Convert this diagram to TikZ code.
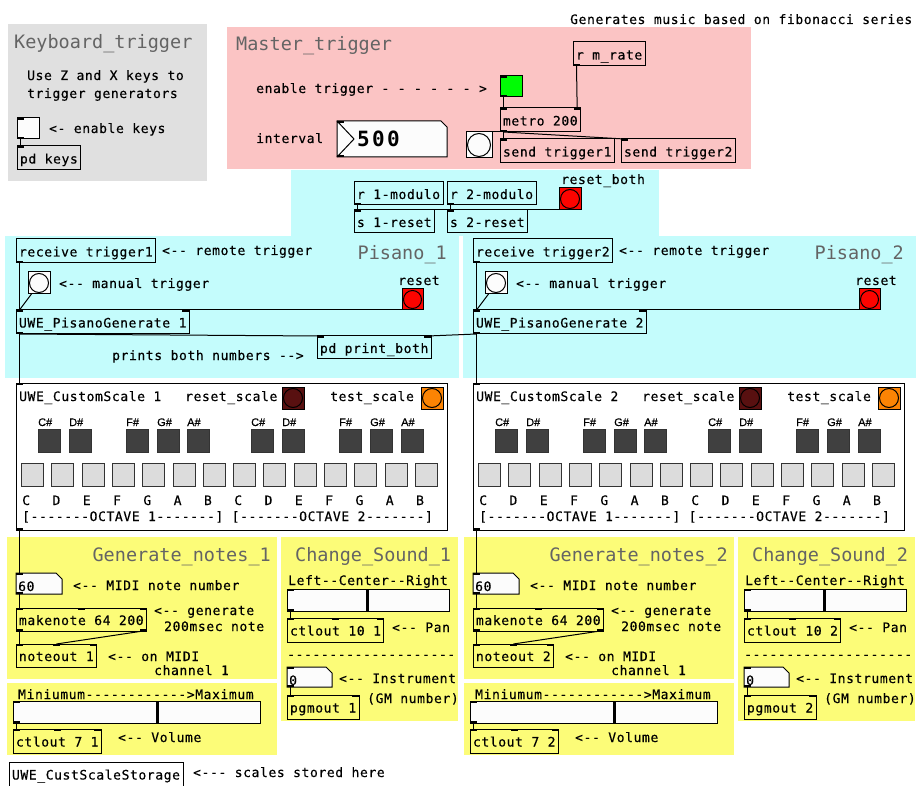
\documentclass[tikz,border=0pt]{standalone}
\usepackage{fontspec}
\usetikzlibrary{calc}

\newfontfamily\pdmono[LetterSpace=4.65,Ligatures=TeXOff,FakeBold=0.4]{DejaVu Sans Mono}
\newfontfamily\pdhead[Ligatures=TeXOff]{DejaVu Sans Mono}
\newfontfamily\pdbig[LetterSpace=11,Ligatures=TeXOff]{DejaVu Sans Mono Bold}
\newfontfamily\pdsans[FakeBold=0.3]{Liberation Sans}
\newcommand{\pdtext}{\pdmono\fontsize{13}{15}\selectfont}

\definecolor{keygray}{RGB}{224,224,224}
\definecolor{masterpink}{RGB}{251,196,196}
\definecolor{pisanocyan}{RGB}{196,252,252}
\definecolor{notesyellow}{RGB}{252,252,120}
\definecolor{headgray}{RGB}{100,100,100}
\definecolor{guiwhite}{RGB}{252,252,252}
\definecolor{bnggreen}{RGB}{0,252,4}
\definecolor{bngred}{RGB}{252,4,0}
\definecolor{bngorange}{RGB}{252,132,4}
\definecolor{bngmaroon}{RGB}{88,16,16}
\definecolor{sharpkey}{RGB}{64,64,64}
\definecolor{naturalkey}{RGB}{220,220,220}

\tikzset{
    obj/.style = {draw, line width=1pt, anchor=north west, inner xsep=3pt, inner ysep=0pt, outer sep=0pt,
                  minimum height=24pt, text height=14pt, text depth=3pt, font=\pdtext},
    gui/.style = {draw, line width=1pt, fill=guiwhite, anchor=north west, inner sep=0pt, outer sep=0pt},
    tgl/.style = {gui, minimum width=22pt, minimum height=21pt},
    bng/.style = {gui, minimum size=#1,
                  path picture={\draw[line width=1pt] (path picture bounding box.center) circle [radius={(#1/2-1.5)*1pt}];}},
    key/.style = {draw=black!80, line width=1pt, anchor=north west, inner sep=0pt, minimum width=22pt, minimum height=23pt},
    cmt/.style = {anchor=base west, inner sep=0pt, font=\pdtext},
    head/.style = {anchor=base west, inner sep=0pt, text=headgray, font=\pdhead\fontsize{18.5}{20}\selectfont},
    wire/.style = {line width=1pt}
}

% inlets and outlets, spread over the top and bottom edge of a box
\newcommand{\pdio}[3]{%
    \ifnum#2>0
        \foreach \k [evaluate=\k as \f using {(\k-1)/max(#2-1,1)}] in {1,...,#2}
            \fill ($(#1.north west)!\f!(#1.north east)+(-7*\f,0)$) rectangle ++(7,2);
    \fi
    \ifnum#3>0
        \foreach \k [evaluate=\k as \f using {(\k-1)/max(#3-1,1)}] in {1,...,#3}
            \fill ($(#1.south west)!\f!(#1.south east)+(-7*\f,0)$) rectangle ++(7,-2);
    \fi
}

% number box with the clipped corner
\newcommand{\numbox}[5]{%
    \draw[line width=1pt, fill=guiwhite] (#2,#3) -- ({#2+#4-6},#3) -- ({#2+#4},{#3+6}) -- ({#2+#4},{#3+#5}) -- (#2,{#3+#5}) -- cycle;
    \node[anchor=north west, inner sep=0pt, outer sep=0pt, minimum width=#4, minimum height=#5] (#1) at (#2,#3) {};
}

\begin{document}
\begin{tikzpicture}[x=1pt, y=-1pt]
    \useasboundingbox (0,0) rectangle (916,786);

    % canvases
    \fill[keygray] (8,24) rectangle (207,181);
    \fill[masterpink] (227,27) rectangle (751,169);
    \fill[pisanocyan] (291,170) rectangle (659,236);
    \fill[pisanocyan] (5,236) rectangle (459,378);
    \fill[pisanocyan] (463,236) rectangle (916,378);

    \node[cmt] (about) at (570,24) {Generates music based on fibonacci series};

    % keyboard
    \node[head] (kbdname) at (14,49) {Keyboard\_trigger};
    \node[cmt] (kbdnote) at (27,80) {Use Z and X keys to};
    \node[cmt] (kbdnote2) at (27,98) {trigger generators};
    \node[tgl] (keytgl) at (17,118) {};
    \node[cmt] (keytglnote) at (49,133) {<- enable keys};
    \node[obj] (keys) at (17,146) {pd keys};
    \draw[wire] ([xshift=3.5pt]keytgl.south west) -- ([xshift=3.5pt]keys.north west);
    \pdio{keytgl}{1}{1} \pdio{keys}{1}{0}

    % master metro
    \node[head] (mastername) at (236,51) {Master\_trigger};
    \node[cmt] (ontglnote) at (256,93) {enable trigger - - - - - - >};
    \node[tgl, fill=bnggreen] (ontgl) at (500,76) {};
    \node[obj] (mrate) at (573,42) {r m\_rate};
    \node[obj] (metro) at (500,108) {metro 200};
    \node[cmt] (ratenote) at (256,143) {interval};
    \numbox{rate}{337}{121}{110}{36}
    \draw[line width=1pt] (rate.north west) -- ++(17,18) -- (rate.south west);
    \node[anchor=base west, inner sep=0pt, font=\pdbig\fontsize{21}{23}\selectfont] (ratetxt) at (357,147) {500};
    \node[bng=26] (tick) at (466,132) {};
    \node[obj] (sendA) at (500,139) {send trigger1};
    \node[obj] (sendB) at (621,139) {send trigger2};
    \draw[wire] ([xshift=3.5pt]ontgl.south west) -- ([xshift=3.5pt]metro.north west);
    \draw[wire] ([xshift=3.5pt]mrate.south west) -- ([xshift=-3.5pt]metro.north east);
    \draw[wire] ([xshift=3.5pt]metro.south west) -- ([xshift=3.5pt]tick.north west);
    \draw[wire] ([xshift=3.5pt]metro.south west) -- ([xshift=3.5pt]sendA.north west);
    \draw[wire] ([xshift=3.5pt]metro.south west) -- ([xshift=3.5pt]sendB.north west);
    \pdio{ontgl}{1}{1} \pdio{mrate}{0}{1} \pdio{metro}{2}{1} \pdio{rate}{1}{1}
    \pdio{sendA}{1}{0} \pdio{sendB}{1}{0}

    % resets
    \node[obj, minimum height=23pt] (mod1) at (354,182) {r 1-modulo};
    \node[obj, minimum height=23pt] (mod2) at (447,182) {r 2-modulo};
    \node[obj, minimum height=23pt] (rst1) at (354,210) {s 1-reset};
    \node[obj, minimum height=23pt] (rst2) at (447,210) {s 2-reset};
    \node[cmt] (bothnote) at (561,184) {reset\_both};
    \node[bng=22, fill=bngred] (both) at (559,188) {};
    \draw[wire] ([xshift=3.5pt]mod1.south west) -- ([xshift=3.5pt]rst1.north west);
    \draw[wire] ([xshift=3.5pt]mod2.south west) -- ([xshift=3.5pt]rst2.north west);
    \draw[wire] ([xshift=3.5pt]both.south west) -- ([xshift=3.5pt]rst2.north west);
    \draw[wire] ([xshift=3.5pt]both.south west) -- ([xshift=3.5pt]rst1.north west);
    \pdio{mod1}{0}{1} \pdio{mod2}{0}{1} \pdio{rst1}{1}{0} \pdio{rst2}{1}{0}

    % the two generators
    \foreach \s/\dx in {1/0, 2/457} {
    \begin{scope}[xshift=\dx]
        \fill[notesyellow] (7,537) rectangle (277,679);
        \fill[notesyellow] (7,683) rectangle (277,755);
        \fill[notesyellow] (281,537) rectangle (458,721);

        \node[obj] (recv\s) at (16,239) {receive trigger\s};
        \node[cmt] (recvnote\s) at (162,255) {<-- remote trigger};
        \node[head, anchor=base east] (pisname\s) at (447,260) {Pisano\_\s};
        \node[bng=22] (hit\s) at (28,272) {};
        \node[cmt] (hitnote\s) at (59,288) {<-- manual trigger};
        \node[cmt] (clearnote\s) at (398,285) {reset};
        \node[bng=21, fill=bngred] (clear\s) at (402,289) {};
        \node[obj] (pis\s) at (16,310) {UWE\_PisanoGenerate \s};

        \node[gui, fill=white, minimum width=431, minimum height=147] (scale\s) at (16,383) {};
        \node[cmt] (scalename\s) at (19,401) {UWE\_CustomScale \s};
        \node[cmt] (rscalenote\s) at (185,401) {reset\_scale};
        \node[bng=22, fill=bngmaroon] (rscale\s) at (282,387) {};
        \node[cmt] (tscalenote\s) at (330,401) {test\_scale};
        \node[bng=22, fill=bngorange] (tscale\s) at (421,387) {};
        \foreach \kx/\kn in {38/C,69/D,126/F,157/G,187/A,251/C,282/D,339/F,370/G,401/A} {
            \node[key, fill=sharpkey] (sharp\s\kx) at (\kx,429) {};
            \node[anchor=base west, inner sep=0pt, font=\pdsans\fontsize{11}{13}\selectfont] (sharpname\s\kx) at (\kx,426) {\kn\#};
        }
        \foreach \kn [count=\k from 0] in {C,D,E,F,G,A,B,C,D,E,F,G,A,B} {
            \node[key, fill=naturalkey] (natural\s\k) at ({21+30.3*\k},463) {};
            \node[cmt] (naturalname\s\k) at ({22+30.3*\k},505) {\kn};
        }
        \node[cmt] (octaves\s) at (22,521) {[-------OCTAVE 1-------] [-------OCTAVE 2-------]};

        \node[head, anchor=base east] (notesname\s) at (271,561) {Generate\_notes\_\s};
        \numbox{note\s}{16}{573}{46}{21}
        \node[cmt] (notetxt\s) at (18,591) {60};
        \node[cmt] (notenote\s) at (73,590) {<-- MIDI note number};
        \node[obj, minimum height=23pt] (make\s) at (16,608) {makenote 64 200};
        \node[cmt] (makenote\s) at (154,615) {<-- generate};
        \node[cmt] (makenote\s b) at (164,631) {200msec note};
        \node[obj, minimum height=23pt] (nout\s) at (16,644) {noteout \s};
        \node[cmt] (noutnote\s) at (108,661) {<-- on MIDI};
        \node[cmt] (noutnote\s b) at (154,675) {channel 1};

        \node[cmt] (volnote\s) at (18,699) {Miniumum------------>Maximum};
        \node[gui, minimum width=247, minimum height=22] (vol\s) at (13,701) {};
        \draw[line width=3pt] ($(vol\s.north west)+(144,0)$) -- ($(vol\s.south west)+(144,0)$);
        \node[obj] (volout\s) at (13,729) {ctlout 7 \s};
        \node[cmt] (voloutnote\s) at (118,742) {<-- Volume};

        \node[head] (soundname\s) at (295,561) {Change\_Sound\_\s};
        \node[cmt] (pannote\s) at (288,585) {Left--Center--Right};
        \node[gui, minimum width=162, minimum height=22] (pan\s) at (287,589) {};
        \draw[line width=3pt] ($(pan\s.north west)+(80,0)$) -- ($(pan\s.south west)+(80,0)$);
        \node[obj] (panout\s) at (287,618) {ctlout 10 \s};
        \node[cmt] (panoutnote\s) at (392,632) {<-- Pan};
        \node[cmt] (rule\s) at (287,659) {--------------------};
        \numbox{prog\s}{287}{667}{45}{20}
        \node[cmt] (progtxt\s) at (289,685) {0};
        \node[cmt] (prognote\s) at (339,683) {<-- Instrument};
        \node[obj] (pgm\s) at (287,695) {pgmout \s};
        \node[cmt] (pgmnote\s) at (367,703) {(GM number)};

        \draw[wire] ([xshift=3.5pt]recv\s.south west) -- ([xshift=3.5pt]pis\s.north west);
        \draw[wire] ([xshift=3.5pt]hit\s.south west) -- ([xshift=3.5pt]pis\s.north west);
        \draw[wire] ([xshift=3.5pt]clear\s.south west) -- ([xshift=-3.5pt]pis\s.north east);
        \draw[wire] ([xshift=3.5pt]pis\s.south west) -- ([xshift=3.5pt]scale\s.north west);
        \draw[wire] ([xshift=3.5pt]scale\s.south west) -- ([xshift=3.5pt]note\s.north west);
        \draw[wire] ([xshift=3.5pt]note\s.south west) -- ([xshift=3.5pt]make\s.north west);
        \draw[wire] ([xshift=3.5pt]make\s.south west) -- ([xshift=3.5pt]nout\s.north west);
        \draw[wire] ([xshift=-3.5pt]make\s.south east) -- ($(nout\s.north west)!0.5!(nout\s.north east)$);
        \draw[wire] ([xshift=3.5pt]vol\s.south west) -- ([xshift=3.5pt]volout\s.north west);
        \draw[wire] ([xshift=3.5pt]pan\s.south west) -- ([xshift=3.5pt]panout\s.north west);
        \draw[wire] ([xshift=3.5pt]prog\s.south west) -- ([xshift=3.5pt]pgm\s.north west);

        \pdio{recv\s}{0}{1} \pdio{pis\s}{2}{1} \pdio{scale\s}{1}{1}
        \pdio{note\s}{1}{1} \pdio{make\s}{3}{2} \pdio{nout\s}{3}{0}
        \pdio{vol\s}{1}{1} \pdio{volout\s}{3}{0}
        \pdio{pan\s}{1}{1} \pdio{panout\s}{3}{0} \pdio{prog\s}{1}{1} \pdio{pgm\s}{2}{0}
    \end{scope}
    }

    % both numbers printed together
    \node[obj, minimum height=23pt] (printb) at (317,336) {pd print\_both};
    \node[cmt] (printbnote) at (112,360) {prints both numbers -->};
    \draw[wire] ([xshift=3.5pt]pis1.south west) -- ([xshift=3.5pt]printb.north west);
    \draw[wire] ([xshift=3.5pt]pis2.south west) -- ([xshift=-3.5pt]printb.north east);
    \pdio{printb}{2}{0}

    \node[obj, fill=white] (store) at (9,762) {UWE\_CustScaleStorage};
    \node[cmt] (storenote) at (193,777) {<--- scales stored here};
\end{tikzpicture}
\end{document}
